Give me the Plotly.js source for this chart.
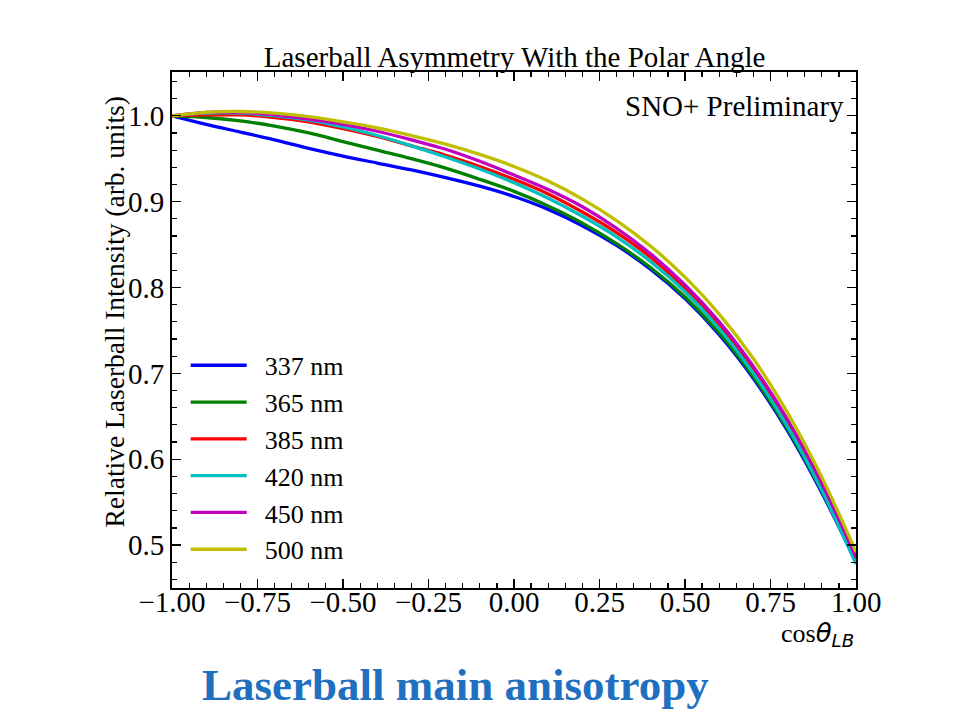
<!DOCTYPE html>
<html>
<head>
<meta charset="utf-8">
<script src="https://cdn.plot.ly/plotly-3.0.1.min.js"></script>
<style>html,body{margin:0;padding:0;background:#fff;}#chart{width:953px;height:716px;}</style>
</head>
<body>
<div id="chart"></div>
<script>
const cosTheta = [-1.0,-0.9,-0.8,-0.7,-0.6,-0.5,-0.4,-0.3,-0.2,-0.1,0.0,0.1,0.2,0.3,0.4,0.5,0.6,0.7,0.8,0.9,1.0];
const wavelengths = ["337 nm","365 nm","385 nm","420 nm","450 nm","500 nm"];
const colors = ["#0000ff","#008000","#ff0000","#00bfbf","#bf00bf","#bfbf00"];
const int337 = [1.000,0.990,0.981,0.972,0.962,0.953,0.945,0.937,0.928,0.918,0.906,0.891,0.872,0.849,0.821,0.787,0.745,0.694,0.633,0.561,0.480];
const int365 = [1.000,0.998,0.994,0.988,0.980,0.970,0.960,0.950,0.939,0.926,0.912,0.895,0.875,0.851,0.823,0.789,0.747,0.696,0.635,0.563,0.481];
const int385 = [1.000,1.001,1.001,0.998,0.993,0.985,0.976,0.965,0.954,0.941,0.926,0.909,0.888,0.864,0.835,0.799,0.757,0.705,0.643,0.570,0.485];
const int420 = [1.000,1.003,1.003,1.000,0.995,0.987,0.977,0.965,0.952,0.938,0.922,0.904,0.883,0.859,0.830,0.795,0.752,0.700,0.638,0.564,0.478];
const int450 = [1.000,1.004,1.004,1.001,0.996,0.990,0.982,0.972,0.961,0.947,0.931,0.914,0.894,0.869,0.839,0.803,0.760,0.708,0.646,0.572,0.486];
const int500 = [1.000,1.004,1.005,1.003,0.999,0.993,0.986,0.977,0.967,0.955,0.941,0.924,0.903,0.878,0.848,0.812,0.769,0.717,0.654,0.579,0.492];
const series = [int337,int365,int385,int420,int450,int500];

const serif = "Liberation Serif, Times New Roman, serif";
const traces = series.map((ys,i)=>({
  x: cosTheta, y: ys, type: "scatter", mode: "lines",
  name: "\u2002" + wavelengths[i], legendgroup: "g"+i,
  line: {color: colors[i], width: 3.3, shape: "spline", smoothing: 1}
}));

const axisCommon = {
  showline: true, mirror: "allticks", linecolor: "#000", linewidth: 2,
  ticks: "inside", ticklen: 9, tickwidth: 1.2, tickcolor: "#000",
  showgrid: false, zeroline: false,
  tickfont: {family: serif, size: 29, color: "#000"}
};

const layout = {
  width: 953, height: 716,
  margin: {l: 172, r: 97, t: 72, b: 128},
  paper_bgcolor: "#fff", plot_bgcolor: "#fff",
  title: {text: "Laserball Asymmetry With the Polar Angle", font: {family: serif, size: 29, color: "#000"},
          x: 0.54, xanchor: "center", y: 0.92, yanchor: "middle"},
  xaxis: Object.assign({}, axisCommon, {
    range: [-1, 1], dtick: 0.25, tick0: -1, tickformat: ".2f", ticklabelstandoff: -13,
    minor: {dtick: 0.05, ticks: "inside", ticklen: 5, tickcolor: "#000", showgrid: false}
  }),
  yaxis: Object.assign({}, axisCommon, {
    range: [0.45, 1.051], dtick: 0.1, tick0: 0.5, tickformat: ".1f",
    minor: {dtick: 0.02, ticks: "inside", ticklen: 5, tickcolor: "#000", showgrid: false}
  }),
  showlegend: true,
  legend: {x: 0.02, y: 0.477, xanchor: "left", yanchor: "top", bgcolor: "rgba(0,0,0,0)",
           font: {family: serif, size: 26, color: "#000"}, tracegroupgap: 0, itemwidth: 56},
  annotations: [
    {text: "Relative Laserball Intensity (arb. units)", xref: "paper", yref: "paper", x: -0.084, y: 0.535,
     xanchor: "center", yanchor: "middle", textangle: -90, showarrow: false,
     font: {family: serif, size: 27.5, color: "#000"}},
    {text: "SNO+ Preliminary", xref: "paper", yref: "paper", x: 0.985, y: 0.935, xanchor: "right", yanchor: "middle",
     showarrow: false, font: {family: serif, size: 29, color: "#000"}},
    {text: "cos<span style=\"font-family:'DejaVu Sans'\"><i>θ</i><sub><i>LB</i></sub></span>", xref: "paper", yref: "paper", x: 1.0, y: -0.054, xanchor: "right", yanchor: "top",
     showarrow: false, font: {family: serif, size: 26, color: "#000"}},
    {text: "<b>Laserball main anisotropy</b>", xref: "paper", yref: "paper", x: 0.415, y: -0.136, xanchor: "center", yanchor: "top",
     showarrow: false, font: {family: serif, size: 45, color: "#1f70c1"}}
  ]
};

Plotly.newPlot("chart", traces, layout, {staticPlot: true, displayModeBar: false});
</script>
</body>
</html>
